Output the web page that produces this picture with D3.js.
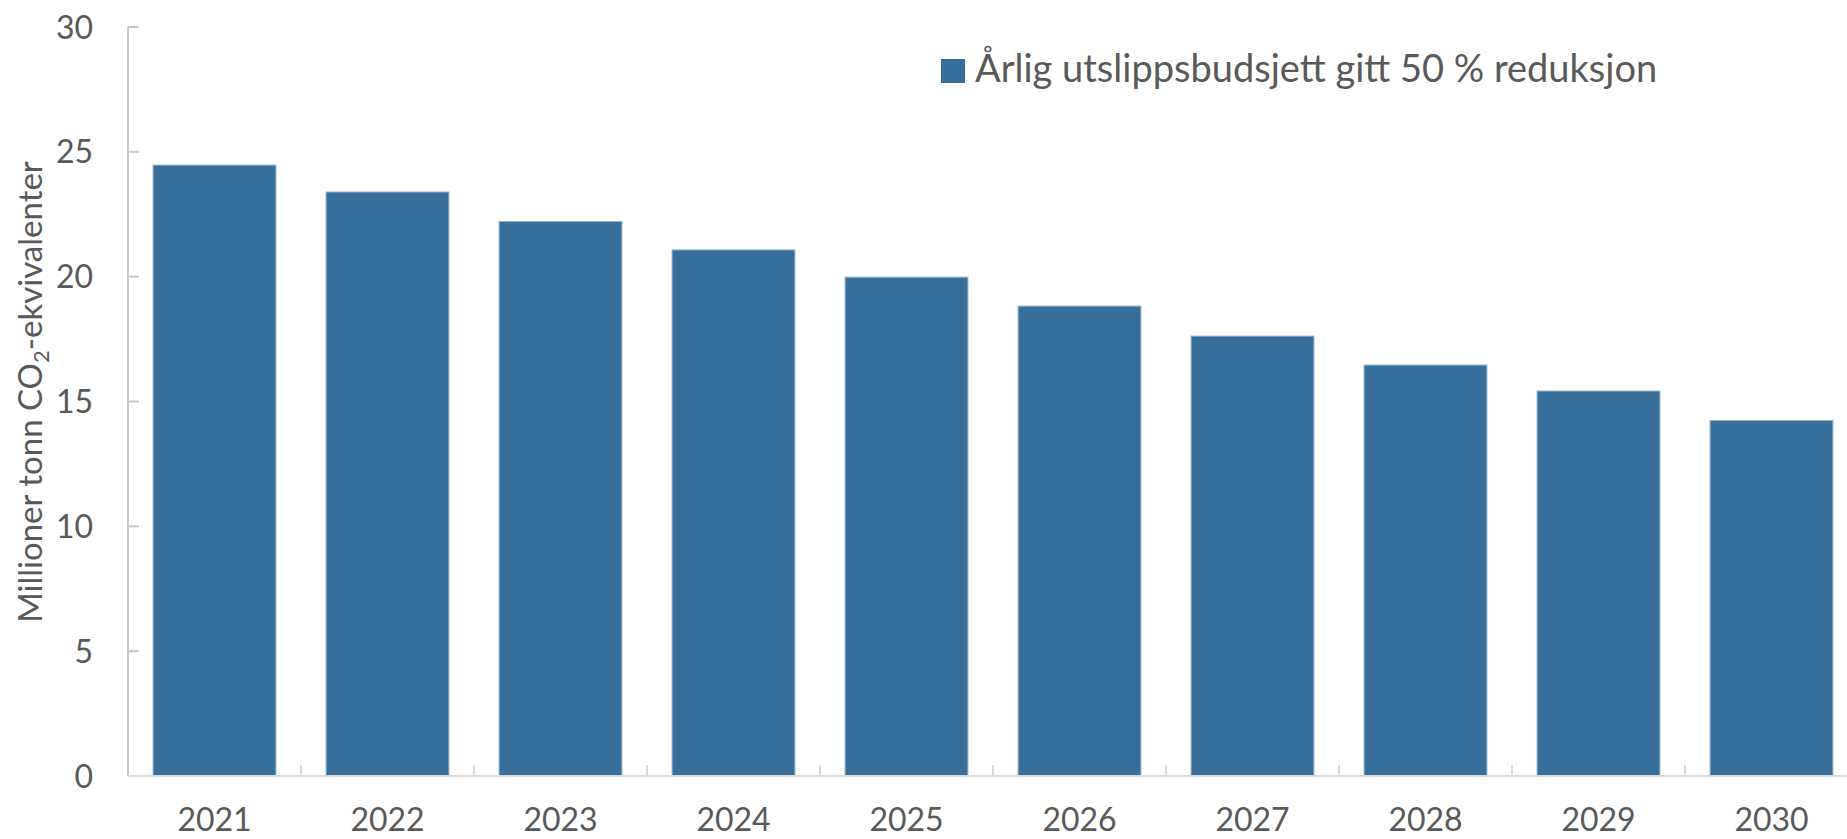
<!DOCTYPE html>
<html>
<head>
<meta charset="utf-8">
<script src="https://cdn.jsdelivr.net/npm/d3@7"></script>
<style>
  body { margin: 0; background: #fff; }
  svg text { font-family: Lato, "Open Sans", sans-serif; fill: #595959; }
</style>
</head>
<body>
<svg width="1847" height="839"></svg>
<script>
// data
var years = ['2021', '2022', '2023', '2024', '2025', '2026', '2027', '2028', '2029', '2030'];
var budget = [24.47, 23.39, 22.21, 21.07, 19.98, 18.82, 17.62, 16.46, 15.42, 14.24];
var yTicks = [0, 5, 10, 15, 20, 25, 30];
var legendLabel = 'Årlig utslippsbudsjett gitt 50 % reduksjon';

var svg = d3.select('svg');

// plot area (last band runs off the right edge, as in the reference)
var plotLeft = 128, plotRight = 1858, plotTop = 27, plotBottom = 776;
var barColor = '#376e9a';
var axisColor = '#c8c8c8';

var x = d3.scaleBand()
    .domain(years)
    .range([plotLeft, plotRight])
    .paddingInner(0.29)
    .paddingOuter(0.145);

var y = d3.scaleLinear()
    .domain([0, 30])
    .range([plotBottom, plotTop]);

// bars
svg.append('g')
    .selectAll('rect')
    .data(budget)
    .enter().append('rect')
    .attr('x', function(d, i) { return x(years[i]); })
    .attr('y', function(d) { return y(d); })
    .attr('width', x.bandwidth())
    .attr('height', function(d) { return y(0) - y(d); })
    .attr('fill', barColor)
    .attr('stroke', '#8fb0cc')
    .attr('stroke-width', 1);

// y axis line + inward ticks
var yAxis = svg.append('g');
yAxis.append('line')
    .attr('x1', plotLeft).attr('x2', plotLeft)
    .attr('y1', y(30)).attr('y2', y(0))
    .attr('stroke', axisColor).attr('stroke-width', 2);
yAxis.selectAll('line.tick')
    .data(yTicks)
    .enter().append('line')
    .attr('class', 'tick')
    .attr('x1', plotLeft).attr('x2', plotLeft + 11)
    .attr('y1', function(d) { return y(d); })
    .attr('y2', function(d) { return y(d); })
    .attr('stroke', axisColor).attr('stroke-width', 2);
yAxis.selectAll('text')
    .data(yTicks)
    .enter().append('text')
    .attr('x', 93)
    .attr('y', function(d) { return y(d); })
    .attr('dy', '0.36em')
    .attr('text-anchor', 'end')
    .attr('font-size', 32)
    .text(function(d) { return d; });

// x axis line + inward ticks at category boundaries
var xAxis = svg.append('g');
xAxis.append('line')
    .attr('x1', plotLeft).attr('x2', plotRight)
    .attr('y1', plotBottom).attr('y2', plotBottom)
    .attr('stroke', '#d9d9d9').attr('stroke-width', 2);
var step = x.step();
xAxis.selectAll('line.tick')
    .data(years)
    .enter().append('line')
    .attr('class', 'tick')
    .attr('x1', function(d) { return x(d) + x.bandwidth() + (step - x.bandwidth()) / 2; })
    .attr('x2', function(d) { return x(d) + x.bandwidth() + (step - x.bandwidth()) / 2; })
    .attr('y1', plotBottom).attr('y2', plotBottom - 11)
    .attr('stroke', '#d9d9d9').attr('stroke-width', 2);
xAxis.selectAll('text')
    .data(years)
    .enter().append('text')
    .attr('x', function(d) { return x(d) + x.bandwidth() / 2; })
    .attr('y', 831)
    .attr('text-anchor', 'middle')
    .attr('font-size', 32)
    .text(function(d) { return d; });

// y axis title with subscript
var yTitle = svg.append('text')
    .attr('transform', 'translate(42,392) rotate(-90)')
    .attr('text-anchor', 'middle')
    .attr('font-size', 33);
yTitle.append('tspan').text('Millioner tonn CO');
yTitle.append('tspan').attr('font-size', 22).attr('dy', 7).text('2');
yTitle.append('tspan').attr('dy', -7).text('-ekvivalenter');

// legend
var legend = svg.append('g').attr('transform', 'translate(941,59)');
legend.append('rect')
    .attr('width', 24).attr('height', 24)
    .attr('fill', barColor);
legend.append('text')
    .attr('x', 34).attr('y', 23)
    .attr('font-size', 38)
    .text(legendLabel);
</script>
</body>
</html>
